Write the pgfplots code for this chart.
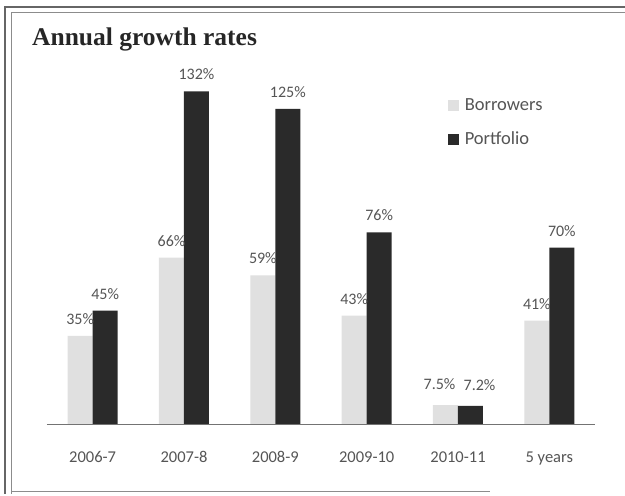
\documentclass[border=0pt]{standalone}
\usepackage{pgfplots}
\pgfplotsset{compat=1.18}
\usepackage{pgfplotstable}
\usepackage{fontspec}
\setmainfont{Carlito}
\newfontfamily\titlefont{Liberation Serif}
\definecolor{txt}{HTML}{555555}
\definecolor{lightbar}{HTML}{E0E0E0}
\definecolor{darkbar}{HTML}{2A2A2A}

\pgfplotstableread{
x b bx by p px py
0 35 0 0 45 0 0
1 66 0 0 132 0 0
2 59 0 0 125 0 0
3 43 0 0 76 0 0
4 7.5 -6 4 7.2 9 4
5 41 0 0 70 0 0
}\data

\begin{document}
\begin{tikzpicture}
\useasboundingbox (0pt,0pt) rectangle (625pt,496pt);
\fill[white] (0pt,0pt) rectangle (625pt,496pt);
\draw[black!60, line width=1.4pt] (5pt,2pt) -- (5pt,489pt) -- (625pt,489pt);
\draw[black!45, line width=0.8pt] (11pt,2pt) -- (11pt,484pt) -- (625pt,484pt);
\draw[black!45, line width=0.8pt] (11pt,5pt) -- (490pt,5pt);
\node[anchor=west, inner sep=0pt, font=\titlefont\bfseries\fontsize{25.5}{28}\selectfont, text=black!85] at (32pt,457pt) {Annual growth rates};
\begin{axis}[
  at={(47pt,72pt)}, anchor=south west,
  scale only axis, width=548pt, height=352.8pt,
  xmin=-0.5, xmax=5.5, ymin=0, ymax=140,
  axis x line=bottom, axis y line=none,
  axis line style={-, black!55, line width=0.8pt},
  xtick={0,...,5},
  xticklabels={2006-7,2007-8,2008-9,2009-10,2010-11,5 years},
  major tick length=0pt,
  ytick=\empty,
  /pgf/number format/assume math mode=true,
  xticklabel style={text=txt, font=\fontsize{16.5}{18}\selectfont, anchor=north, text height=11pt, text depth=0pt, yshift=-24pt},
  ybar=0pt, bar width=25pt,
  nodes near coords={\pgfmathprintnumber{\pgfplotspointmeta}\%},
  every node near coord/.append style={text=txt, font=\fontsize{16}{18}\selectfont, text height=11pt, text depth=0pt, xshift=\lx pt, yshift=\ly pt+8pt},
  legend style={at={(0.7255,0.935)}, anchor=north west, draw=none, fill=none,
    font=\fontsize{18.5}{20}\selectfont, text=txt, row sep=16pt, column sep=3pt,
    nodes={inner xsep=3pt}},
  legend cell align=left,
  legend image code/.code={\fill[#1] (0pt,-6pt) rectangle (11pt,5pt);},
]
\addplot[fill=lightbar, draw=none,
  visualization depends on={\thisrow{bx} \as \lx},
  visualization depends on={\thisrow{by} \as \ly}]
  table[x=x, y=b] {\data};
\addplot[fill=darkbar, draw=none,
  visualization depends on={\thisrow{px} \as \lx},
  visualization depends on={\thisrow{py} \as \ly}]
  table[x=x, y=p] {\data};
\legend{Borrowers, Portfolio}
\end{axis}
\end{tikzpicture}
\end{document}
